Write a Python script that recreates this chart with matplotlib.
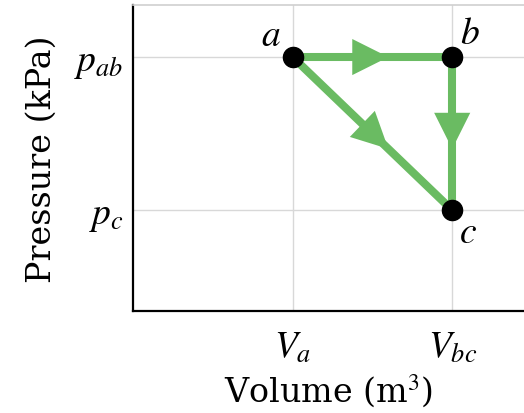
import matplotlib
matplotlib.use("Agg")
import matplotlib.pyplot as plt
from matplotlib.patches import FancyArrowPatch

plt.rcParams["font.family"] = ["DejaVu Serif", "Liberation Serif"]
plt.rcParams["mathtext.fontset"] = "stix"

# state points of the cycle (symbolic values)
states = ["a", "b", "c"]
volumes = [2.0, 3.0, 3.0]
pressures = [2.0, 2.0, 1.0]
vol_ticks = [2.0, 3.0]
vol_labels = ["$V_a$", "$V_{bc}$"]
pres_ticks = [1.0, 2.0]
pres_labels = ["$p_c$", "$p_{ab}$"]
# processes: a->b, b->c, a->c
paths = [(0, 1), (1, 2), (0, 2)]

green = "#6abb62"

fig = plt.figure(figsize=(5.24, 4.14), dpi=100)
ax = fig.add_axes([0.254, 0.246, 0.746, 0.7395])
ax.set_xlim(1.0, 3.45)
ax.set_ylim(0.34, 2.34)

ax.set_xticks(vol_ticks)
ax.set_xticklabels(vol_labels, fontsize=27)
ax.set_yticks(pres_ticks)
ax.set_yticklabels(pres_labels, fontsize=27)
ax.tick_params(length=0)
ax.tick_params(axis="x", pad=13)
ax.tick_params(axis="y", pad=7)
ax.grid(True, color="#d8d8d8", lw=1)
ax.set_axisbelow(True)

for s in ["left", "bottom"]:
    ax.spines[s].set_linewidth(1.6)
    ax.spines[s].set_color("black")
ax.spines["top"].set_color("#d0d0d0")
ax.spines["top"].set_linewidth(1.2)
ax.spines["right"].set_visible(False)

for i, j in paths:
    x0, y0 = volumes[i], pressures[i]
    x1, y1 = volumes[j], pressures[j]
    ax.plot([x0, x1], [y0, y1], color=green, lw=5.8, solid_capstyle="butt", zorder=2)
    # arrowhead near the middle of the segment
    ms = (x0 + (x1 - x0) * 0.40, y0 + (y1 - y0) * 0.40)
    me = (x0 + (x1 - x0) * 0.60, y0 + (y1 - y0) * 0.60)
    arr = FancyArrowPatch(ms, me, arrowstyle="-|>,head_length=1.3,head_width=0.65",
                          mutation_scale=20, color=green, lw=0, zorder=3,
                          shrinkA=0, shrinkB=0)
    ax.add_patch(arr)

ax.plot(volumes, pressures, "o", color="black", ms=14.5, zorder=4)

offsets = {"a": (-16, 16), "b": (13, 17), "c": (11, -16)}
for k, name in enumerate(states):
    ax.annotate("$" + name + "$", (volumes[k], pressures[k]), xytext=offsets[name],
                textcoords="offset points", fontsize=27, ha="center", va="center")

ax.set_xlabel("Volume (m$^3$)", fontsize=24, labelpad=5)
ax.set_ylabel("Pressure (kPa)", fontsize=24, labelpad=12)

fig.savefig("out.png", dpi=100)
